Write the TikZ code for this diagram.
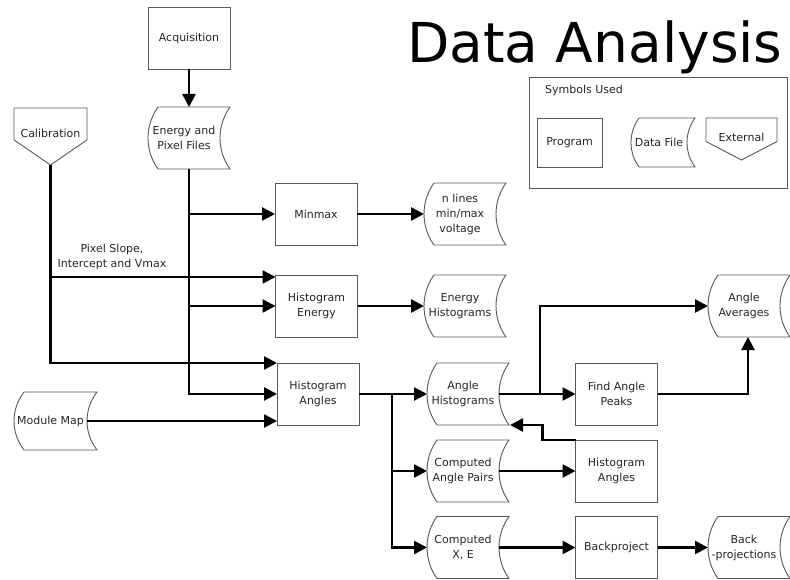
\documentclass[tikz,border=0pt]{standalone}
\usepackage{fontspec}
\setmainfont{DejaVu Sans}
\usetikzlibrary{arrows.meta,calc}
\begin{document}
\begin{tikzpicture}[x=1pt,y=-1pt,
  txt/.style={font=\fontsize{11}{15}\selectfont, text=black!85, align=center},
  prog/.style={txt, draw=black!65, line width=0.9pt, minimum width=82pt, minimum height=62pt, inner sep=1pt, outer sep=0pt},
  dfile/.style={txt, minimum width=72pt, minimum height=62pt, inner sep=0pt, outer sep=0pt},
  ext/.style={txt, inner sep=0pt, outer sep=0pt},
  shapeline/.style={draw=black!65, line width=0.9pt},
  arr/.style={line width=2.6pt, -{Triangle[length=13pt,width=13pt]}}]
\fill[white] (0,0) rectangle (790,580);
\useasboundingbox (0,0) rectangle (790,580);

% title
\node[anchor=base west, font=\fontsize{55}{60}\selectfont, inner sep=0pt] (title) at (407,63) {Data Analysis};

% legend
\draw[shapeline] (529,77) rectangle (787,188);
\node[txt, anchor=west, inner sep=0pt] (symt) at (545,90) {Symbols Used};
\node[prog, minimum width=65pt, minimum height=49pt] (sprog) at (569.5,142.5) {Program};
\node[dfile, minimum width=56pt, minimum height=49pt] (sdf) at (659,142.5) {Data File};
\node[ext, minimum width=71pt, minimum height=42pt] (sext) at (741.5,139) {\raisebox{4pt}{External}};

% main nodes
\node[prog] (acq) at (189,38.5) {Acquisition};
\node[dfile] (epf) at (184,138) {Energy and\\Pixel Files};
\node[ext, minimum width=73pt, minimum height=57pt] (cal) at (50.5,136.5) {\raisebox{6pt}{Calibration}};
\node[dfile, minimum width=73pt, minimum height=58pt] (mm) at (50.5,421) {Module Map};
\node[prog] (minmax) at (316,214) {Minmax};
\node[dfile] (nl) at (460,214) {n lines\\min/max\\voltage};
\node[prog] (he) at (316.5,306) {Histogram\\Energy};
\node[dfile] (eh) at (460,306) {Energy\\Histograms};
\node[prog] (ha) at (318,394) {Histogram\\Angles};
\node[dfile] (ah) at (463,394) {Angle\\Histograms};
\node[prog] (fap) at (616.5,394) {Find Angle\\Peaks};
\node[dfile] (aa) at (744,306) {Angle\\Averages};
\node[prog] (ha2) at (616.5,471) {Histogram\\Angles};
\node[dfile] (cap) at (463,471) {Computed\\Angle Pairs};
\node[dfile] (cxe) at (463,547.5) {Computed\\X, E};
\node[prog] (bp) at (616.5,547.5) {Backproject};
\node[dfile] (bpr) at (744,547.5) {Back\\-projections};
\node[txt] (lbl) at (112,257) {Pixel Slope,\\Intercept and Vmax};

% data file outlines
\foreach \n/\d in {epf/10,mm/10,nl/10,eh/10,ah/10,aa/10,cap/10,cxe/10,bpr/10,sdf/8}{
  \pgfmathsetmacro{\cc}{\d*4/3}
  \draw[shapeline] ([xshift=\d pt]\n.north west) -- ([xshift=\d pt]\n.north east)
    .. controls ($(\n.north east)!0.3!(\n.south east)+(\d-\cc,0)$) and ($(\n.north east)!0.7!(\n.south east)+(\d-\cc,0)$) .. ([xshift=\d pt]\n.south east)
    -- ([xshift=\d pt]\n.south west)
    .. controls ($(\n.north west)!0.7!(\n.south west)+(\d-\cc,0)$) and ($(\n.north west)!0.3!(\n.south west)+(\d-\cc,0)$) .. cycle;
}
% external outlines
\foreach \n in {cal,sext}{
  \draw[shapeline] (\n.north west) -- (\n.north east) -- ($(\n.north east)!0.56!(\n.south east)$)
    -- (\n.south) -- ($(\n.north west)!0.56!(\n.south west)$) -- cycle;
}

% connectors
\draw[arr] (acq.south) -- (acq.south |- epf.north);
\coordinate (eb) at (acq.south |- epf.south);
\draw[arr] (eb) |- (ha.west);
\draw[arr] (eb |- minmax.west) -- (minmax.west);
\draw[arr] (eb |- he.west) -- (he.west);
\coordinate (ha1) at ([yshift=31pt]ha.west);
\coordinate (he1) at ([yshift=29pt]he.west);
\draw[arr] (cal.south) |- (ha1);
\draw[arr] (cal.south |- he1) -- (he1);
\draw[arr] (mm.east) -- (mm.east -| ha.west);
\draw[arr] (minmax.east) -- (nl.west);
\draw[arr] (he.east) -- (eh.west);
\draw[arr] (ha.east) -- (ah.west);
\coordinate (s1) at ([xshift=33pt]ha.east);
\draw[arr] (s1) |- (cxe.west);
\draw[arr] (s1 |- cap.west) -- (cap.west);
\draw[arr] (ah.east) -- (fap.west);
\coordinate (s2) at ([xshift=41pt]ah.east);
\draw[arr] (s2) |- (aa.west);
\draw[arr] (fap.east) -| ([xshift=4pt]aa.south);
\draw[arr] (ha2.north west) -- ++(-33,0) |- ([xshift=11pt]ah.south east);
\draw[arr] (cap.east) -- (ha2.west);
\draw[arr] (cxe.east) -- (bp.west);
\draw[arr] (bp.east) -- (bpr.west);
\end{tikzpicture}
\end{document}
